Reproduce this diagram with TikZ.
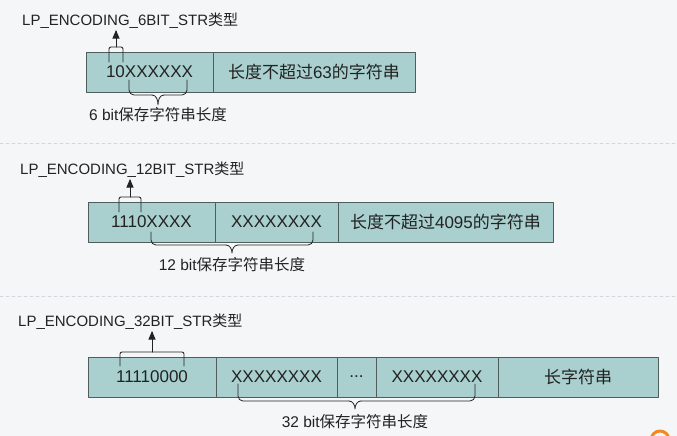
\documentclass[tikz,border=0pt]{standalone}
\usepackage{fontspec}
\setmainfont{Liberation Sans}
\newfontfamily\cjk{Noto Sans CJK SC}
\usetikzlibrary{arrows}
\usetikzlibrary{positioning}
\definecolor{bgcol}{HTML}{F5F6F8}
\definecolor{cellfill}{HTML}{A9CFCF}
\definecolor{cellline}{HTML}{4F5D5D}
\definecolor{txtcol}{HTML}{222222}
\definecolor{sepcol}{HTML}{D3D6DB}
\definecolor{logocol}{HTML}{F08A24}
\begin{document}
\begin{tikzpicture}[line cap=round,line join=round,>=triangle 45,x=1pt,y=-1pt,
  cell/.style={draw=cellline,fill=cellfill,line width=0.8pt,minimum height=40pt,inner sep=0pt,outer sep=0pt,text=txtcol,font=\fontsize{17}{20}\selectfont},
  title/.style={anchor=west,inner sep=0pt,text=txtcol,font=\fontsize{15}{18}\selectfont},
  note/.style={inner sep=0pt,text=txtcol,font=\fontsize{15.5}{18}\selectfont},
  brace/.style={draw=txtcol,line width=0.8pt,rounded corners=5pt},
  bracket/.style={draw=txtcol,line width=0.9pt,rounded corners=2pt},
  pointer/.style={->,draw=txtcol,line width=1pt,shorten >=1pt}]
\useasboundingbox (0,0) rectangle (677,436);
\clip (0,0) rectangle (677,436);
\fill[bgcol] (0,0) rectangle (677,436);
\foreach \y in {143,296}
\draw[sepcol,line width=0.8pt,dash pattern=on 3pt off 3pt] (0,\y) -- (677,\y);
\draw[logocol,line width=3pt] (660,440) circle (9);

\node[title] (n1) at (22,21) {LP\_ENCODING\_6BIT\_STR{\cjk 类型}};
\node[cell,minimum width=127pt] (a1) at (149.5,72) {10XXXXXX};
\node[cell,minimum width=202pt,right=0pt of a1] (a2) {{\cjk 长度不超过}63{\cjk 的字符串}};
\coordinate (k1) at (116,47);
\draw[bracket] (109,62) -- (109,47) -- (123,47) -- (123,62);
\draw[pointer] (k1) -- (k1 |- n1.south);
\coordinate (t1) at (158,105);
\draw[brace] (129,80) -- (129,95) -- (152,95);
\draw[draw=txtcol,line width=0.8pt] (152,95) to[out=0,in=90] (t1) to[out=90,in=180] (164,95);
\draw[brace] (164,95) -- (187,95) -- (187,80);
\node[note] (m1) at (158,115) {6 bit{\cjk 保存字符串长度}};

\node[title] (n2) at (20,170) {LP\_ENCODING\_12BIT\_STR{\cjk 类型}};
\node[cell,minimum width=127pt] (b1) at (151.5,222) {1110XXXX};
\node[cell,minimum width=123pt,right=0pt of b1] (b2) {XXXXXXXX};
\node[cell,minimum width=215pt,right=0pt of b2] (b3) {{\cjk 长度不超过}4095{\cjk 的字符串}};
\coordinate (k2) at (130,197);
\draw[bracket] (119,212) -- (119,197) -- (141,197) -- (141,212);
\draw[pointer] (k2) -- (k2 |- n2.south);
\coordinate (t2) at (232,253);
\draw[brace] (151,232) -- (151,245) -- (226,245);
\draw[draw=txtcol,line width=0.8pt] (226,245) to[out=0,in=90] (t2) to[out=90,in=180] (238,245);
\draw[brace] (238,245) -- (313,245) -- (313,232);
\node[note] (m2) at (232,265) {12 bit{\cjk 保存字符串长度}};

\node[title] (n3) at (18,322) {LP\_ENCODING\_32BIT\_STR{\cjk 类型}};
\node[cell,minimum width=128pt] (c1) at (152,377) {11110000};
\node[cell,minimum width=121pt,right=0pt of c1] (c2) {XXXXXXXX};
\node[cell,minimum width=39pt,right=0pt of c2] (c3) {...};
\node[cell,minimum width=122pt,right=0pt of c3] (c4) {XXXXXXXX};
\node[cell,minimum width=160pt,right=0pt of c4] (c5) {{\cjk 长字符串}};
\coordinate (k3) at (152,352);
\draw[bracket] (120,366) -- (120,352) -- (184,352) -- (184,366);
\draw[pointer] (k3) -- (k3 |- n3.south);
\coordinate (t3) at (355,409);
\draw[brace] (238,384) -- (238,401) -- (349,401);
\draw[draw=txtcol,line width=0.8pt] (349,401) to[out=0,in=90] (t3) to[out=90,in=180] (361,401);
\draw[brace] (361,401) -- (475,401) -- (475,384);
\node[note] (m3) at (355,422) {32 bit{\cjk 保存字符串长度}};
\end{tikzpicture}
\end{document}
